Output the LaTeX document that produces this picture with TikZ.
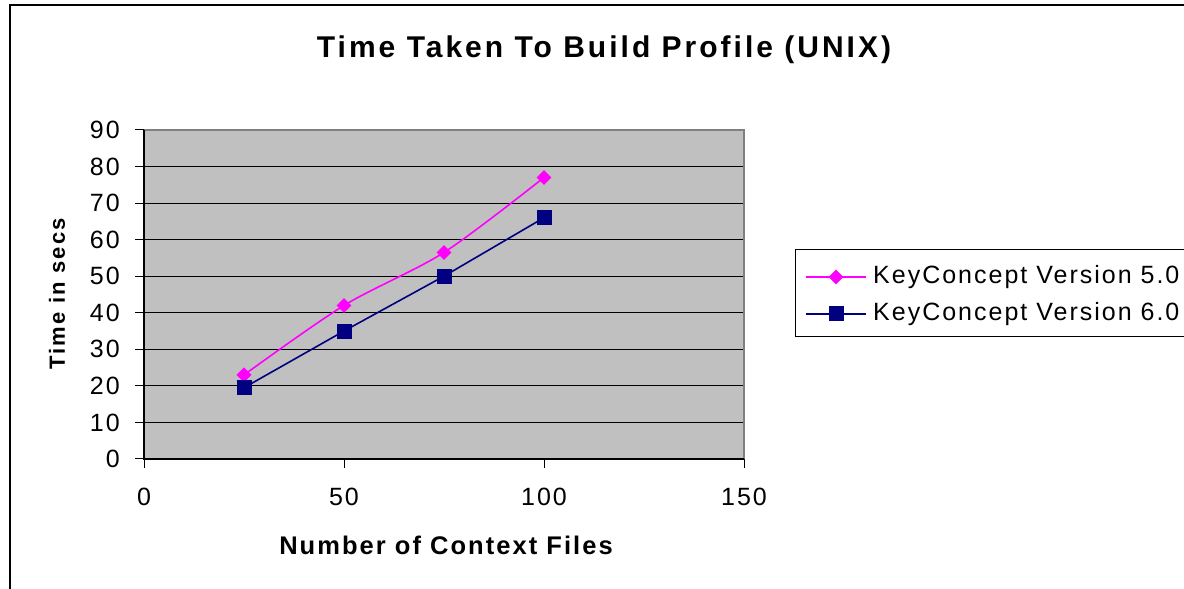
\documentclass[tikz,border=0pt]{standalone}
\usepackage{fontspec}
\setmainfont{Liberation Sans}
\newfontfamily\chartfont[LetterSpace=8]{Liberation Sans}
\newfontfamily\titlefont[LetterSpace=10]{Liberation Sans}
\definecolor{xlmagenta}{RGB}{255,0,255}
\definecolor{xlnavy}{RGB}{0,0,128}
\definecolor{xlsilver}{RGB}{192,192,192}
\definecolor{xlgray}{RGB}{128,128,128}
\usetikzlibrary{positioning,shapes.geometric}

\begin{document}
\begin{tikzpicture}[x=1pt,y=1pt,
  ticklabel/.style={font=\chartfont\fontsize{25}{27}\selectfont,inner sep=0pt},
  axislabel/.style={font=\chartfont\bfseries\fontsize{25.5}{27}\selectfont,inner sep=0pt},
  mkdiamond/.style={diamond,fill=xlmagenta,inner sep=0pt,minimum size=15pt},
  mksquare/.style={rectangle,fill=xlnavy,inner sep=0pt,minimum size=15pt},
  v5line/.style={xlmagenta,line width=1.6pt},
  v6line/.style={xlnavy,line width=1.6pt}]
  \useasboundingbox (0,0) rectangle (1184,589);
  % Outer frame
  \draw[line width=2.5pt] (10,-10) -- (10,584) -- (1200,584);
  % Title
  \node[font=\titlefont\bfseries\fontsize{30}{32}\selectfont,inner sep=0pt] (title) at (604,539) {Time Taken To Build Profile (UNIX)};
  % Plot area
  \begin{scope}[shift={(144pt,130pt)},x=4pt,y=3.656pt]
    \fill[xlsilver] (0,0) rectangle (150,90);
    \foreach \g in {10,20,...,80}{
      \draw[line width=1pt] (0,\g) -- (150,\g);
    }
    \draw[xlgray,line width=1.2pt] (0,90) -- (150,90) -- (150,0);
    \draw[line width=1.2pt] (0,90) -- (0,0) -- (150,0);
    % Axis ticks
    \foreach \g in {0,10,...,90}{
      \draw[line width=1pt] (0,\g) -- ++(-9pt,0);
      \node[ticklabel,anchor=east] (yl\g) at ([xshift=-24pt]0,\g) {\g};
    }
    \foreach \t in {0,50,100,150}{
      \draw[line width=1pt] (\t,0) -- ++(0,-9pt);
      \node[ticklabel] (xl\t) at ([yshift=-38pt]\t,0) {\t};
    }
    % Data points
    \foreach \n/\px/\py in {a/25/23,b/50/42,c/75/56.5,d/100/77}{
      \coordinate (v5\n) at (\px,\py);
    }
    \foreach \n/\px/\py in {a/25/19.5,b/50/35,c/75/50,d/100/66}{
      \coordinate (v6\n) at (\px,\py);
    }
    \draw[v5line] plot[smooth,tension=0.5] coordinates {(v5a) (v5b) (v5c) (v5d)};
    \draw[v6line] (v6a) -- (v6b) -- (v6c) -- (v6d);
    \foreach \n in {a,b,c,d}{
      \node[mkdiamond] (m5\n) at (v5\n) {};
      \node[mksquare] (m6\n) at (v6\n) {};
    }
  \end{scope}
  % Axis titles
  \node[axislabel] (xtitle) at (446,44) {Number of Context Files};
  \node[font=\titlefont\bfseries\fontsize{22}{24}\selectfont,inner sep=0pt,rotate=90] (ytitle) at (57,295) {Time in secs};
  % Legend
  \draw[line width=1pt] (795,339) rectangle (1200,252);
  \node[ticklabel,anchor=west] (leg5) at (873,312) {KeyConcept Version 5.0};
  \node[ticklabel,anchor=west] (leg6) at (873,275) {KeyConcept Version 6.0};
  \coordinate (l5) at (806,312);
  \coordinate (l6) at (806,275);
  \draw[v5line] (l5) -- ([xshift=-7pt]leg5.west);
  \draw[v6line] (l6) -- ([xshift=-7pt]leg6.west);
  \node[mkdiamond] (k5) at (836,312) {};
  \node[mksquare] (k6) at (836,275) {};
\end{tikzpicture}
\end{document}
